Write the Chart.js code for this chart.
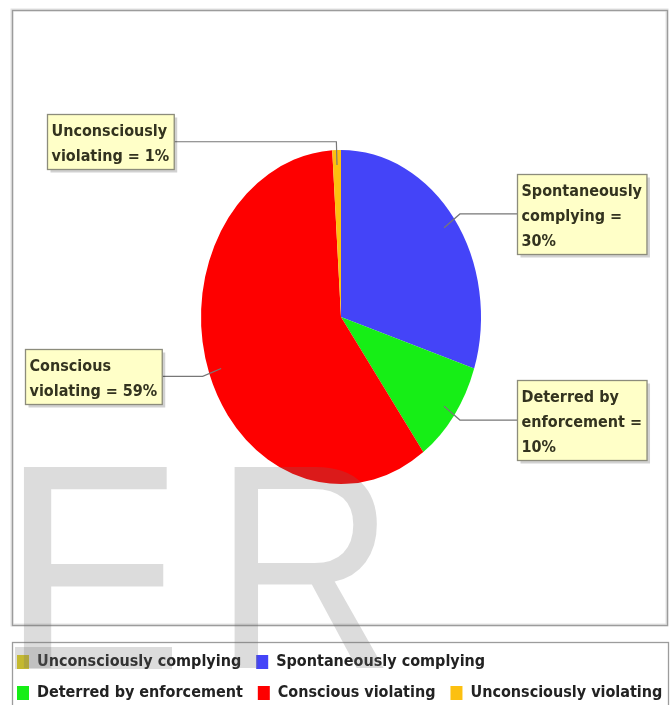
<!DOCTYPE html>
<html>
<head>
<title>Compliance breakdown</title>
<script src="https://cdn.jsdelivr.net/npm/chart.js"></script>
<style>
    body { margin: 0; background: #fff; }
    canvas { display: block; }
</style>
</head>
<body>
<canvas id="pieChart" width="672" height="705"></canvas>
<script>
var categories = ['Unconsciously complying', 'Spontaneously complying', 'Deterred by enforcement', 'Conscious violating', 'Unconsciously violating'];
var shares = [0, 30, 10, 59, 1];
var sliceColors = ['#e0d21e', '#4444f8', '#16ee16', '#fe0000', '#fcc010'];

// left edge of each callout box (null = no box, slice is empty)
var calloutX = [null, 517, 517, 25, 47];

// the pie is drawn as a circle and stretched into this ellipse
var PIE = { cx: 341, cy: 317, rx: 140, ry: 167 };
var FONT = "'DejaVu Sans Condensed', 'Liberation Sans Narrow', 'DejaVu Sans', sans-serif";

function wrap(ctx, text, maxWidth) {
    var words = text.split(' ');
    var lines = [];
    var cur = '';
    words.forEach(function (w) {
        var test = cur ? cur + ' ' + w : w;
        if (cur && ctx.measureText(test).width > maxWidth) {
            lines.push(cur);
            cur = w;
        } else {
            cur = test;
        }
    });
    if (cur) lines.push(cur);
    return lines;
}

var framePlugin = {
    id: 'frame',
    beforeDraw: function (chart) {
        var ctx = chart.ctx;
        ctx.save();
        ctx.fillStyle = '#fff';
        ctx.fillRect(0, 0, chart.width, chart.height);
        ctx.strokeStyle = '#e2e2e2';
        ctx.lineWidth = 3;
        ctx.strokeRect(12, 10, 655, 615);
        ctx.strokeStyle = '#9c9c9c';
        ctx.lineWidth = 1.3;
        ctx.strokeRect(12.5, 10.5, 655, 615);
        ctx.strokeRect(12.5, 642.5, 656, 70);
        ctx.restore();
    }
};

var calloutPlugin = {
    id: 'callouts',
    beforeDatasetsDraw: function (chart) {
        var arc = chart.getDatasetMeta(0).data[1];
        var ctx = chart.ctx;
        ctx.save();
        ctx.translate(PIE.cx, PIE.cy);
        ctx.scale(PIE.rx / arc.outerRadius, PIE.ry / arc.outerRadius);
        ctx.translate(-arc.x, -arc.y);
    },
    afterDatasetsDraw: function (chart) {
        var ctx = chart.ctx;
        ctx.restore();
        var meta = chart.getDatasetMeta(0);
        ctx.save();
        ctx.font = 'bold 16px ' + FONT;
        meta.data.forEach(function (arc, i) {
            if (!shares[i]) return;
            var mid = (arc.startAngle + arc.endAngle) / 2;
            var cos = Math.cos(mid), sin = Math.sin(mid);
            var inner = [PIE.cx + PIE.rx * 0.91 * cos, PIE.cy + PIE.ry * 0.91 * sin];
            var elbow = [PIE.cx + PIE.rx * 1.05 * cos, PIE.cy + PIE.ry * 1.05 * sin];
            var lines = wrap(ctx, categories[i] + ' = ' + shares[i] + '%', 132);
            var w = Math.max.apply(null, lines.map(function (l) { return ctx.measureText(l).width; })) + 9;
            var h = lines.length * 25 + 5;
            var left = calloutX[i] + 0.5;
            var top = Math.round(elbow[1] - h / 2) + 0.5;
            var anchorX = cos >= 0 ? left : left + w;

            ctx.strokeStyle = '#777';
            ctx.lineWidth = 1.2;
            ctx.beginPath();
            ctx.moveTo(inner[0], inner[1]);
            ctx.lineTo(elbow[0], elbow[1]);
            ctx.lineTo(anchorX, elbow[1]);
            ctx.stroke();

            ctx.fillStyle = 'rgba(0,0,0,0.18)';
            ctx.fillRect(left + 3, top + 3, w, h);
            ctx.fillStyle = '#ffffc8';
            ctx.fillRect(left, top, w, h);
            ctx.strokeStyle = '#8c8c7c';
            ctx.lineWidth = 1.3;
            ctx.strokeRect(left, top, w, h);

            ctx.fillStyle = '#33331f';
            ctx.textBaseline = 'alphabetic';
            lines.forEach(function (l, k) {
                ctx.fillText(l, left + 4, top + 21 + k * 25);
            });
        });
        ctx.restore();
    }
};

var watermarkPlugin = {
    id: 'watermark',
    afterDraw: function (chart) {
        var ctx = chart.ctx;
        ctx.save();
        ctx.fillStyle = 'rgba(110,110,110,0.24)';
        ctx.fillRect(15, 647, 157, 22);
        ctx.font = "292px 'Liberation Sans', Arial, sans-serif";
        ctx.textBaseline = 'alphabetic';
        ctx.fillText('F', 0, 668);
        ctx.translate(214, 668);
        ctx.scale(0.86, 1);
        ctx.fillText('R', 0, 0);
        ctx.restore();
    }
};

var ctx = document.getElementById('pieChart').getContext('2d');
var pieChart = new Chart(ctx, {
    type: 'pie',
    data: {
        labels: categories,
        datasets: [{
            data: shares,
            backgroundColor: sliceColors,
            borderWidth: 0
        }]
    },
    options: {
        responsive: false,
        animation: false,
        events: [],
        radius: 140,
        layout: { padding: { left: 2, right: -14, top: 0, bottom: -6 } },
        plugins: {
            tooltip: { enabled: false },
            legend: {
                position: 'bottom',
                align: 'start',
                labels: {
                    boxWidth: 12,
                    boxHeight: 14,
                    padding: 15,
                    color: '#222',
                    font: { family: FONT, size: 16, weight: 'bold' }
                }
            }
        }
    },
    plugins: [framePlugin, calloutPlugin, watermarkPlugin]
});
</script>
</body>
</html>
